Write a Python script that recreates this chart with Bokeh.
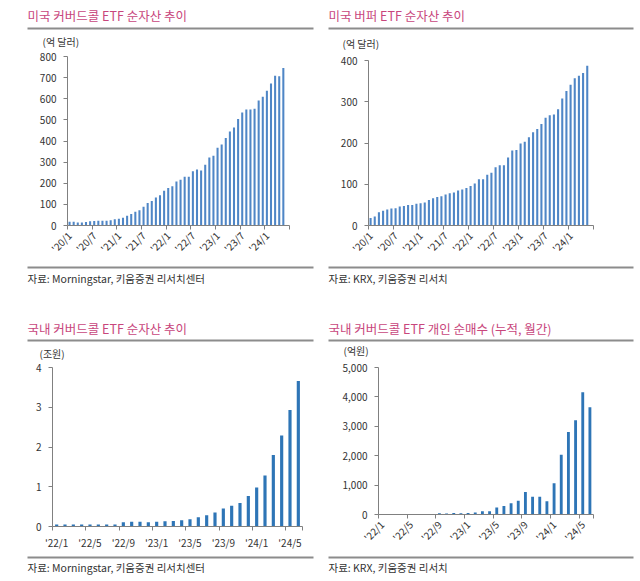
from bokeh.plotting import figure
from bokeh.models import Range1d, FixedTicker, NumeralTickFormatter
from bokeh.layouts import column, row
from bokeh.core.properties import value
from bokeh.embed import file_html
from bokeh.resources import INLINE
import math

# ---------------- data ----------------
us_cc_labels = ["'20/1", "'20/7", "'21/1", "'21/7", "'22/1", "'22/7", "'23/1", "'23/7", "'24/1"]
us_cc_values = [18, 18, 14, 14, 17, 20, 21, 23, 23, 23, 25, 29, 32, 37, 46, 54, 65, 72, 89, 106,
                116, 133, 143, 165, 177, 186, 208, 217, 231, 231, 257, 265, 260, 288, 322, 330, 368,
                384, 414, 445, 464, 504, 535, 549, 549, 553, 592, 610, 638, 672, 709, 706, 746]

us_buf_labels = ["'20/1", "'20/7", "'21/1", "'21/7", "'22/1", "'22/7", "'23/1", "'23/7", "'24/1"]
us_buf_values = [18, 22, 32, 36, 39, 41, 42, 46, 47, 50, 50, 53, 54, 56, 62, 66, 69, 71, 75, 78,
                 80, 85, 87, 91, 96, 102, 112, 112, 123, 128, 141, 146, 146, 165, 182, 183, 199,
                 203, 214, 226, 234, 246, 261, 267, 269, 282, 308, 326, 341, 357, 363, 370, 387]

kr_cc_labels = ["'22/1", "'22/5", "'22/9", "'23/1", "'23/5", "'23/9", "'24/1", "'24/5"]
kr_cc_values = [0.05, 0.05, 0.05, 0.05, 0.05, 0.05, 0.05, 0.05, 0.11, 0.12, 0.12, 0.11, 0.12, 0.13,
                0.14, 0.16, 0.18, 0.23, 0.28, 0.35, 0.45, 0.52, 0.59, 0.77, 0.98, 1.28, 1.80, 2.29,
                2.93, 3.66]

kr_buy_labels = ["'22/1", "'22/5", "'22/9", "'23/1", "'23/5", "'23/9", "'24/1", "'24/5"]
kr_buy_values = [5, 5, 5, 5, 20, 5, 5, 5, 40, 30, 55, 45, 55, 65, 110, 110, 235, 290, 385, 470,
                 765, 600, 600, 450, 1065, 2030, 2805, 3205, 4160, 3645]

FONT = "Noto Sans CJK KR"
TITLE_COLOR = "#c8467c"
SEP_COLOR = "#8c8c8c"
TXT = "#333333"
AXIS = "#808080"


def blank(w, h):
    f = figure(width=w, height=h, output_backend="svg", toolbar_location=None,
               x_range=Range1d(0, w), y_range=Range1d(h, 0),
               x_axis_type=None, y_axis_type=None, frame_align=False,
               min_border_left=0, min_border_right=0, min_border_top=0, min_border_bottom=0)
    f.outline_line_color = None
    f.grid.visible = False
    return f


def header(w, h, title, title_x, title_y, line_y, unit, unit_x, unit_y):
    f = blank(w, h)
    f.text(x=[title_x], y=[title_y], text=[title], text_font=value(FONT),
           text_font_size="12.5px", text_color=TITLE_COLOR, text_baseline="middle",
           text_align="left")
    f.segment(x0=[title_x], y0=[line_y], x1=[w - 7], y1=[line_y], line_color=SEP_COLOR,
              line_width=2)
    f.text(x=[unit_x], y=[unit_y], text=[unit], text_font=value(FONT), text_font_size="10px",
           text_color=TXT, text_baseline="middle", text_align="left")
    return f


def footer(w, h, x0, line_y, text_y, source):
    f = blank(w, h)
    f.segment(x0=[x0], y0=[line_y], x1=[w - 7], y1=[line_y], line_color=SEP_COLOR,
              line_width=2)
    f.text(x=[x0], y=[text_y], text=[source], text_font=value(FONT), text_font_size="10.5px",
           text_color=TXT, text_baseline="middle", text_align="left")
    return f


def chart(w, h, borders, values, labels, label_every, n_slots, ymax, ystep, bar_color,
          bar_width, rotate, fmt=None):
    bl, bt, br, bb = borders
    p = figure(width=w, height=h, output_backend="svg", toolbar_location=None,
               x_range=Range1d(0, n_slots), y_range=Range1d(0, ymax), frame_align=False,
               min_border_left=bl, min_border_top=bt, min_border_right=br,
               min_border_bottom=bb)
    p.outline_line_color = None
    p.grid.visible = False
    xs = [i + 0.5 for i in range(len(values))]
    p.vbar(x=xs, top=values, width=bar_width, fill_color=bar_color, line_color=None)

    xa = p.xaxis[0]
    centers = [i * label_every + 0.5 for i in range(len(labels))]
    bounds = list(range(0, n_slots + 1, label_every))
    if bounds[-1] != n_slots:
        bounds.append(n_slots)
    xa.ticker = FixedTicker(ticks=centers, minor_ticks=bounds)
    xa.major_label_overrides = {c: l for c, l in zip(centers, labels)}
    xa.major_tick_out = 0
    xa.major_tick_in = 0
    xa.minor_tick_out = 4
    xa.minor_tick_in = 0
    xa.minor_tick_line_color = AXIS
    xa.axis_line_color = AXIS
    xa.major_label_text_font = FONT
    xa.major_label_text_font_size = "10px"
    xa.major_label_text_color = TXT
    xa.major_label_standoff = 4
    if rotate:
        xa.major_label_orientation = math.pi / 4

    ya = p.yaxis[0]
    ya.ticker = FixedTicker(ticks=[ystep * k for k in range(int(round(ymax / ystep)) + 1)])
    ya.major_tick_out = 4
    ya.major_tick_in = 0
    ya.minor_tick_line_color = None
    ya.axis_line_color = AXIS
    ya.major_tick_line_color = AXIS
    ya.major_label_text_font = FONT
    ya.major_label_text_font_size = "10px"
    ya.major_label_text_color = TXT
    ya.major_label_standoff = 7
    if fmt:
        ya.formatter = NumeralTickFormatter(format=fmt)
    return p


W = 320

# panel 1: 미국 커버드콜
h1 = header(W, 50, "미국 커버드콜 ETF 순자산 추이", 27, 15, 28, "(억 달러)", 42, 41)
c1 = chart(W, 213, (67, 6, 31, 34), us_cc_values, us_cc_labels, 6, 54, 800, 100,
           "#4f86c6", 0.5, True)
f1 = footer(W, 37, 27, 4, 15, "자료: Morningstar, 키움증권 리서치센터")

# panel 2: 미국 버퍼
h2 = header(W, 52, "미국 버퍼 ETF 순자산 추이", 8, 15, 28, "(억 달러)", 22, 43)
c2 = chart(W, 211, (48, 8, 47, 36), us_buf_values, us_buf_labels, 6, 54, 400, 100,
           "#4f86c6", 0.5, True)
f2 = footer(W, 37, 8, 4, 15, "자료: KRX, 키움증권 리서치")

# panel 3: 국내 커버드콜 순자산
h3 = header(W, 61, "국내 커버드콜 ETF 순자산 추이", 27, 28, 40, "(조원)", 39, 53)
c3 = chart(W, 191, (52, 6, 18, 22), kr_cc_values, kr_cc_labels, 4, 30, 4, 1,
           "#2e75b6", 0.38, False)
f3 = footer(W, 29, 27, 5, 15, "자료: Morningstar, 키움증권 리서치센터")

# panel 4: 국내 커버드콜 개인 순매수
h4 = header(W, 60, "국내 커버드콜 ETF 개인 순매수 (누적, 월간)", 8, 28, 40, "(억원)", 23, 50)
c4 = chart(W, 192, (58, 7, 47, 31), kr_buy_values, kr_buy_labels, 4, 30, 5000, 1000,
           "#2e75b6", 0.4, True, fmt="0,0")
f4 = footer(W, 29, 8, 5, 15, "자료: KRX, 키움증권 리서치")

layout = column(row(column(h1, c1, f1), column(h2, c2, f2)),
                row(column(h3, c3, f3), column(h4, c4, f4)))
open("out.html", "w").write(file_html(layout, INLINE))
